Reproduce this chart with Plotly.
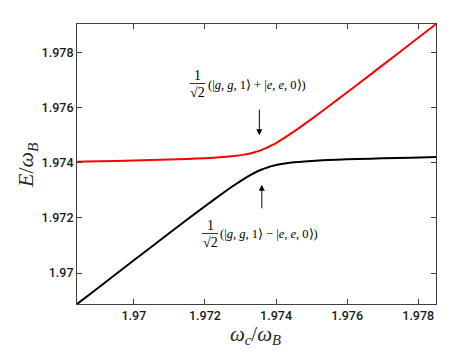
import plotly.graph_objects as go

# ---- data ----
wc = [1.9684, 1.9690, 1.9700, 1.9710, 1.9715, 1.9720, 1.9725, 1.9728, 1.9731,
      1.9733, 1.9734, 1.9735, 1.9736, 1.9737, 1.9738, 1.9739, 1.9740, 1.9742,
      1.9745, 1.9748, 1.9752, 1.9757, 1.9763, 1.9770, 1.9778, 1.9785]
E_upper = [1.974035, 1.974051, 1.974080, 1.974115, 1.974137, 1.974165, 1.974205,
           1.974241, 1.974295, 1.974348, 1.974382, 1.974421, 1.974467, 1.974520,
           1.974580, 1.974645, 1.974716, 1.974872, 1.975128, 1.975401, 1.975778,
           1.976260, 1.976847, 1.977538, 1.978331, 1.979026]
E_lower = [1.968876, 1.969472, 1.970465, 1.971452, 1.971941, 1.972424, 1.972895,
           1.973166, 1.973419, 1.973570, 1.973638, 1.973701, 1.973757, 1.973806,
           1.973849, 1.973886, 1.973917, 1.973966, 1.974016, 1.974050, 1.974082,
           1.974111, 1.974137, 1.974161, 1.974186, 1.974206]
x_ticks = [1.970, 1.972, 1.974, 1.976, 1.978]
x_tick_labels = ["1.97", "1.972", "1.974", "1.976", "1.978"]
y_ticks = [1.970, 1.972, 1.974, 1.976, 1.978]
y_tick_labels = ["1.97", "1.972", "1.974", "1.976", "1.978"]
x_range = [1.9684, 1.9785]
y_range = [1.96888, 1.97903]
arrow_up_tip = (1.97353, 1.97500)
arrow_low_tip = (1.97360, 1.97320)

fig = go.Figure()
fig.add_trace(go.Scatter(x=wc, y=E_lower, mode="lines", line=dict(color="#000000", width=2, shape="spline", smoothing=0.6), showlegend=False))
fig.add_trace(go.Scatter(x=wc, y=E_upper, mode="lines", line=dict(color="#ff0000", width=2, shape="spline", smoothing=0.6), showlegend=False))

axis_common = dict(showline=True, linecolor="#404040", linewidth=1, mirror="allticks",
                   ticks="inside", ticklen=5, tickcolor="#404040", tickwidth=1,
                   showgrid=False, zeroline=False,
                   tickfont=dict(family="Roboto, Liberation Sans, Arial", size=12.5, color="#1a1a1a", weight=500))
fig.update_xaxes(range=x_range, tickvals=x_ticks, ticktext=x_tick_labels, **axis_common)
fig.update_yaxes(range=y_range, tickvals=y_ticks, ticktext=y_tick_labels, **axis_common)

serif = "Liberation Serif, Times New Roman, serif"
ann = []
# axis titles
ann.append(dict(xref="paper", yref="paper", x=(247-69)/359, y=(296-327)/280, text="<i>ω</i><sub><i>c</i></sub>/<i>ω</i><sub><i>B</i></sub>",
                showarrow=False, font=dict(family=serif, size=21, color="#262626"), xanchor="center", yanchor="middle"))
ann.append(dict(xref="paper", yref="paper", x=(19-69)/359, y=(296-157)/280, text="<i>E</i>/<i>ω</i><sub><i>B</i></sub>",
                showarrow=False, textangle=-90, font=dict(family=serif, size=22, color="#262626"), xanchor="center", yanchor="middle"))

def state_label(cx_num, py_num, py_den, px_text_left, py_text, sign):
    out = []
    out.append(dict(xref="paper", yref="paper", x=(cx_num-69)/359, y=(296-py_num)/280, text="1",
                    showarrow=False, font=dict(family=serif, size=14, color="#000000"), xanchor="center", yanchor="middle"))
    out.append(dict(xref="paper", yref="paper", x=(cx_num-69)/359, y=(296-py_den)/280, text="√2",
                    showarrow=False, font=dict(family=serif, size=14, color="#000000"), xanchor="center", yanchor="middle"))
    out.append(dict(xref="paper", yref="paper", x=(px_text_left-69)/359, y=(296-py_text)/280,
                    text="(|<i>g</i>, <i>g</i>, 1⟩ " + sign + " |<i>e</i>, <i>e</i>, 0⟩)",
                    showarrow=False, font=dict(family=serif, size=12.5, color="#000000"), xanchor="left", yanchor="middle"))
    return out

ann += state_label(189.5, 67, 84, 198, 76.5, "+")
ann += state_label(202, 217, 234, 210, 225.5, "−")

# arrows
ann.append(dict(x=arrow_up_tip[0], y=arrow_up_tip[1], xref="x", yref="y", ax=0, ay=-27, text="",
                showarrow=True, arrowhead=2, arrowsize=1.2, arrowwidth=1, arrowcolor="#000"))
ann.append(dict(x=arrow_low_tip[0], y=arrow_low_tip[1], xref="x", yref="y", ax=0, ay=25, text="",
                showarrow=True, arrowhead=2, arrowsize=1.2, arrowwidth=1, arrowcolor="#000"))

shapes = [
    dict(type="line", xref="paper", yref="paper", x0=(181.5-69)/359, x1=(197.5-69)/359, y0=(296-75.5)/280, y1=(296-75.5)/280, line=dict(color="#000", width=0.8)),
    dict(type="line", xref="paper", yref="paper", x0=(194-69)/359, x1=(210-69)/359, y0=(296-225.5)/280, y1=(296-225.5)/280, line=dict(color="#000", width=0.8)),
]

fig.update_layout(width=463, height=354, margin=dict(l=69, r=35, t=16, b=58),
                  plot_bgcolor="white", paper_bgcolor="white",
                  annotations=ann, shapes=shapes)
fig.write_html("out.html")
